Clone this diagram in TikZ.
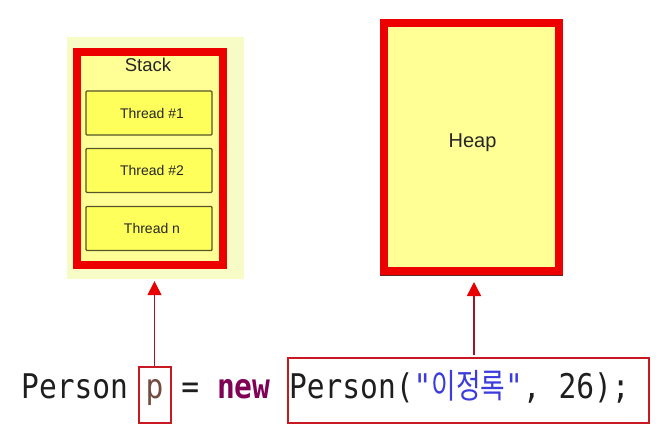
\documentclass[tikz,border=0pt]{standalone}
\usepackage{fontspec}
\setmainfont{Liberation Sans}
\newfontfamily\codefont[FakeStretch=0.87]{DejaVu Sans Mono}
\newfontfamily\kofont[FakeStretch=0.785]{Noto Sans CJK KR}
\usetikzlibrary{arrows.meta,calc}
\definecolor{stackbgc}{RGB}{247,251,198}
\definecolor{innerY}{RGB}{255,255,150}
\definecolor{framered}{RGB}{236,0,0}
\definecolor{threadY}{RGB}{255,255,92}
\definecolor{threadedge}{RGB}{85,85,40}
\definecolor{boxred}{RGB}{200,25,35}
\definecolor{linered}{RGB}{160,20,40}
\definecolor{tipred}{RGB}{232,0,0}
\definecolor{codeblack}{RGB}{30,30,30}
\definecolor{pcol}{RGB}{115,75,65}
\definecolor{kw}{RGB}{127,0,85}
\definecolor{str}{RGB}{60,60,220}
\definecolor{heapedge}{RGB}{90,40,40}
\begin{document}
\begin{tikzpicture}[x=1pt,y=-1pt,
  stackbgbox/.style={fill=stackbgc, draw=none, minimum width=177pt, minimum height=242pt, inner sep=0pt},
  redframe/.style={draw=framered, line width=8pt, fill=innerY, inner sep=0pt},
  threadbox/.style={draw=threadedge, line width=1.4pt, fill=threadY, minimum width=126pt, minimum height=44pt, inner sep=0pt, rounded corners=1pt, font=\fontsize{14}{16}\selectfont, text=black!85},
  codetxt/.style={inner sep=0pt, anchor=base west, text=codeblack, font=\codefont\fontsize{34}{40}\selectfont},
  codebox/.style={draw=boxred, line width=2pt, inner sep=0pt},
  conn/.style={draw=linered, line width=1.5pt, -{Triangle[width=14pt,length=14pt,color=tipred]}}
]
\useasboundingbox[fill=white] (0,0) rectangle (661,432);

% Stack
\node[stackbgbox] (stackbg) at (155.5,158) {};
\node[redframe, minimum width=146pt, minimum height=213pt] (stack) at (150,158.5) {};
\node[font=\fontsize{18.5}{22}\selectfont, text=black!85, inner sep=0pt] (stacklbl) at (148,65) {Stack};
\node[threadbox] (t1) at (149,113) {\hspace*{6pt}Thread \#1};
\node[threadbox] (t2) at (149,170.5) {\hspace*{6pt}Thread \#2};
\node[threadbox] (t3) at (149,228.5) {\hspace*{6pt}Thread n};

% Heap
\node[redframe, minimum width=175pt, minimum height=248pt] (heap) at (471.5,147) {};
\node[anchor=base, inner sep=0pt, font=\fontsize{20}{24}\selectfont, text=black!85] (heaplbl) at (472.5,147) {Heap};
\draw[heapedge, line width=1pt] ([yshift=-0.5pt]heap.south west) -- ([yshift=-0.5pt]heap.south east);

% Code line
\node[codetxt] (w1) at (21,398) {Person};
\node[codetxt, codebox, anchor=base, text height=31pt, text depth=25pt, minimum width=32pt, text=pcol] (pbox) at (154.5,398) {p};
\node[codetxt] (eq) at (181.2,398) {=};
\node[codetxt, font=\codefont\bfseries\fontsize{34}{40}\selectfont, text=kw] (kwnew) at (216.8,398) {new};
\node[codetxt, codebox, text height=40pt, text depth=25pt] (obj) at (287,398)
  {\makebox[361pt][l]{\hspace*{1pt}Person({\color{str}"{\kofont 이정록}"}, 26);}};

% Connectors
\draw[conn, shorten >=2pt] (pbox.north) -- (pbox.north |- stackbg.south);
\draw[conn, shorten <=2pt, shorten >=7pt] ($(obj.north)+(5.5,0)$) -- ($(obj.north |- heap.south)+(5.5,0)$);
\end{tikzpicture}
\end{document}
